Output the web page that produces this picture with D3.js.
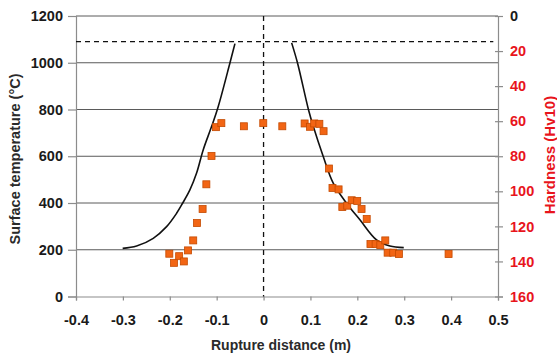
<!DOCTYPE html>
<html><head><meta charset="utf-8">
<script src="https://cdn.jsdelivr.net/npm/d3@7"></script>
<style>
html,body{margin:0;padding:0;background:#fff;}
text{font-family:"Liberation Sans",Arial,sans-serif;font-weight:bold;}
</style></head>
<body><svg id="c" width="557" height="354"></svg>
<script>
// ---- data ----
const xTicks = [-0.4,-0.3,-0.2,-0.1,0,0.1,0.2,0.3,0.4,0.5];
const xTickLabels = ["-0.4","-0.3","-0.2","-0.1","0","0.1","0.2","0.3","0.4","0.5"];
const tempTicks = [0,200,400,600,800,1000,1200];
const hardTicks = [0,20,40,60,80,100,120,140,160];

const leftCurveX = [-0.3005,-0.2707,-0.2353,-0.2068,-0.1855,-0.1727,-0.1571,-0.1428,-0.1286,-0.1107,-0.0966,-0.0716,-0.061];
const leftCurveT = [206,216,249,299,356,399,456,528,628,728,813,1000,1082];
const rightCurveX = [0.0599,0.0723,0.0957,0.106,0.1273,0.1486,0.177,0.2055,0.241,0.2695,0.299];
const rightCurveT = [1085,1000,800,728,599,485,399,328,242,216,209];

const hardX = [-0.201,-0.191,-0.180,-0.170,-0.161,-0.150,-0.142,-0.130,-0.122,-0.111,-0.1015,-0.090,-0.042,-0.0006,
  0.040,0.0876,0.099,0.108,0.119,0.128,0.1394,0.147,0.160,0.168,0.1785,0.188,0.1997,0.209,0.220,0.228,0.239,0.249,0.2596,0.2646,0.2766,0.2887,0.3946];
const hardV = [135.6,140.8,137.0,140.0,133.7,128.0,118.1,110.1,96.0,79.8,63.4,61.1,62.9,61.1,
  62.9,61.3,63.2,61.3,61.5,65.7,87.0,98.1,98.9,109.0,108.2,105.1,105.5,110.1,115.8,130.1,130.1,130.7,128.0,135.0,135.0,135.8,135.8];

const meltTemp = 1090;   // horizontal dashed reference
const ruptureX = 0;      // vertical dashed reference

// ---- layout ----
const svg = d3.select("#c");
const L = 76, R = 498, T = 16, B = 296.5;
const x = d3.scaleLinear().domain([-0.4,0.5]).range([L,R]);
const yT = d3.scaleLinear().domain([0,1200]).range([B,T]);
const yH = d3.scaleLinear().domain([0,160]).range([T,B]);

// gridlines
svg.append("g").selectAll("line").data(tempTicks.filter(d=>d>0)).join("line")
  .attr("x1",L).attr("x2",R).attr("y1",d=>yT(d)).attr("y2",d=>yT(d))
  .attr("stroke","#5a5a5a").attr("stroke-width",1);

// axes
const axCol = "#8c8c8c";
const gl = svg.append("g").attr("transform",`translate(${L},0)`)
  .call(d3.axisLeft(yT).tickValues(tempTicks).tickSize(8).tickPadding(5).tickFormat(d3.format("d")));
const gb = svg.append("g").attr("transform",`translate(0,${B})`)
  .call(d3.axisBottom(x).tickValues(xTicks).tickSize(4).tickPadding(14).tickFormat((d,i)=>xTickLabels[i]));
const gr = svg.append("g").attr("transform",`translate(${R},0)`)
  .call(d3.axisRight(yH).tickValues(hardTicks).tickSize(5).tickPadding(7).tickFormat(d3.format("d")));
[gl,gb,gr].forEach(g=>{
  g.select(".domain").attr("stroke",axCol).attr("stroke-width",1.2);
  g.selectAll(".tick line").attr("stroke",axCol).attr("stroke-width",1.2);
  g.selectAll("text").attr("font-size",14.5).attr("font-family","Liberation Sans, Arial, sans-serif").attr("font-weight","bold").attr("fill","#1a1a1a");
});
gr.selectAll(".tick line").attr("x1",-3);
gr.selectAll("text").attr("fill",d=>d===0?"#1a1a1a":"#e8141c");

// dashed reference lines
svg.append("line").attr("x1",L).attr("x2",x(0.49)).attr("y1",yT(meltTemp)).attr("y2",yT(meltTemp))
  .attr("stroke","#111").attr("stroke-width",1.3).attr("stroke-dasharray","5,4");
svg.append("line").attr("x1",x(ruptureX)).attr("x2",x(ruptureX)).attr("y1",T).attr("y2",B)
  .attr("stroke","#111").attr("stroke-width",1.3).attr("stroke-dasharray","5,4");

// curves
const line = d3.line().x(d=>x(d[0])).y(d=>yT(d[1])).curve(d3.curveCatmullRom.alpha(0.5));
svg.append("path").attr("d",line(leftCurveX.map((v,i)=>[v,leftCurveT[i]])))
  .attr("fill","none").attr("stroke","#111").attr("stroke-width",1.6);
svg.append("path").attr("d",line(rightCurveX.map((v,i)=>[v,rightCurveT[i]])))
  .attr("fill","none").attr("stroke","#111").attr("stroke-width",1.6);

// hardness squares
const s = 7;
svg.append("g").selectAll("rect").data(hardX.map((v,i)=>[v,hardV[i]])).join("rect")
  .attr("x",d=>x(d[0])-s/2).attr("y",d=>yH(d[1])-s/2).attr("width",s).attr("height",s)
  .attr("fill","#f26514").attr("stroke","#c44a00").attr("stroke-width",0.8);

// titles
svg.append("text").attr("transform","translate(20,159) rotate(-90)").attr("text-anchor","middle")
  .attr("font-size",14.5).attr("fill","#2a2a2a").text("Surface temperature (°C)");
svg.append("text").attr("transform","translate(555,155) rotate(-90)").attr("text-anchor","middle")
  .attr("font-size",15).attr("fill","#e8141c").text("Hardness (Hv10)");
svg.append("text").attr("x",281).attr("y",350).attr("text-anchor","middle")
  .attr("font-size",14).attr("fill","#2a2a2a").text("Rupture distance (m)");
</script></body></html>
